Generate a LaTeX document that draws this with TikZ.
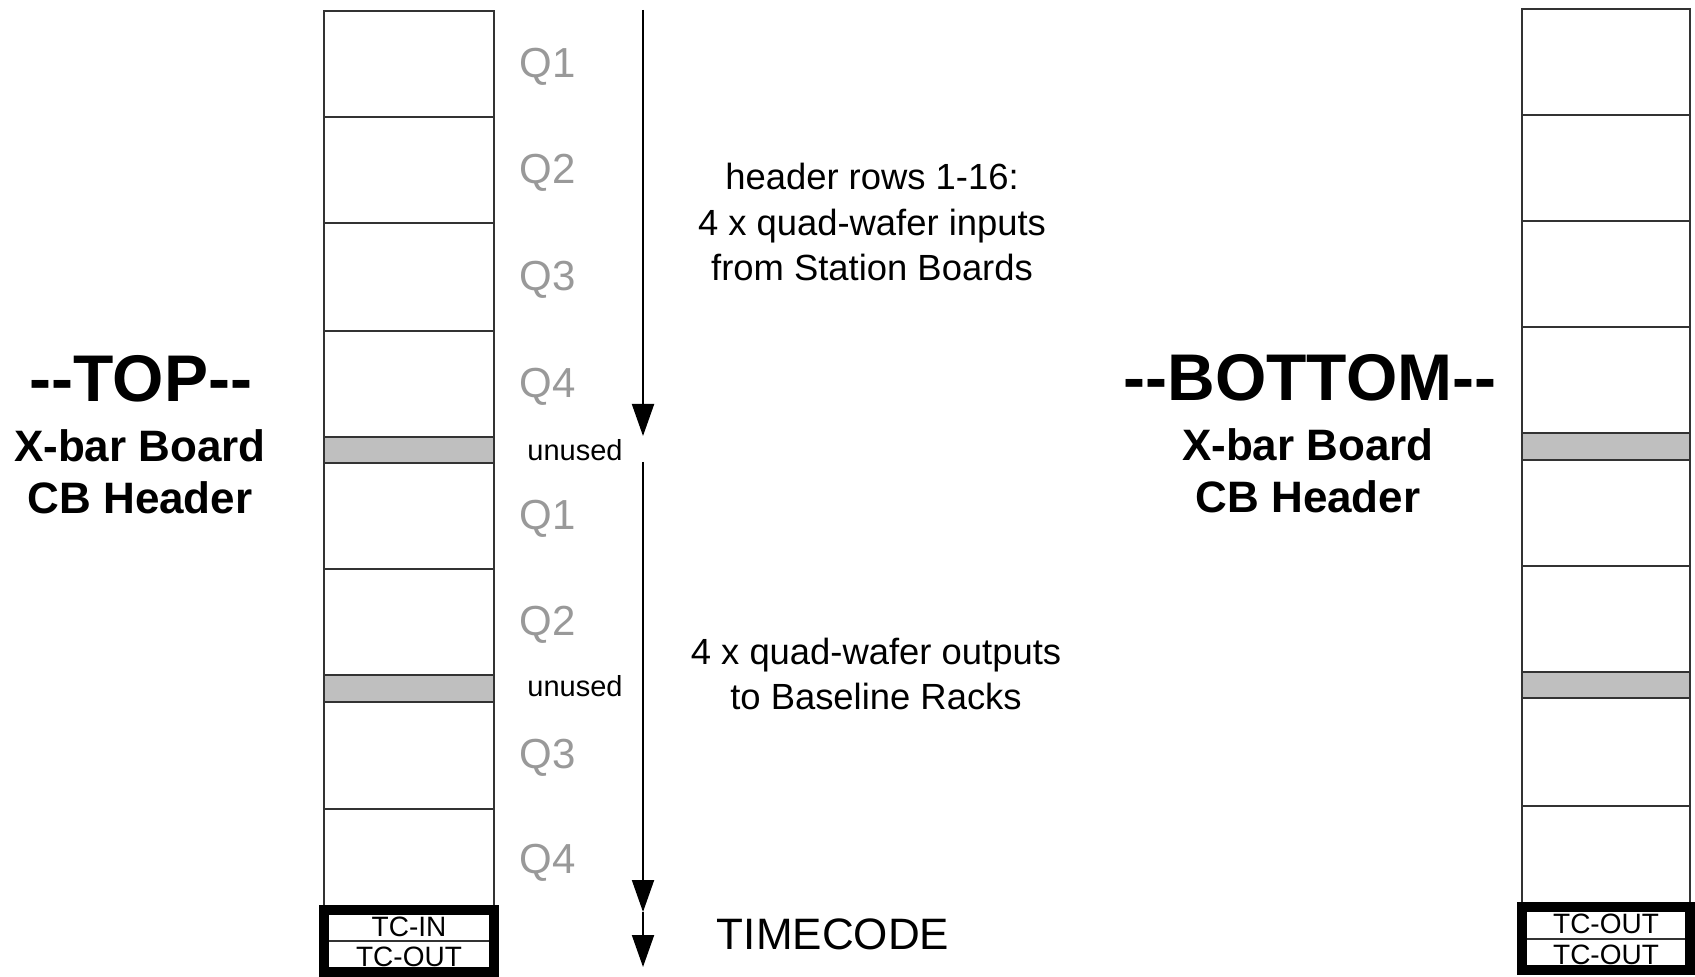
\documentclass[tikz,border=0pt]{standalone}
\usepackage{fontspec}
\setmainfont{Liberation Sans}
\usetikzlibrary{arrows.meta, positioning}
\tikzset{
  cellrow/.style={draw=black!80, line width=1pt},
  unusedrow/.style={draw=black!80, fill=black!25, line width=1pt},
  tcbox/.style={draw=black, line width=5pt},
  tctext/.style={font=\fontsize{14}{16}\selectfont, inner sep=0pt},
  qlabel/.style={font=\fontsize{21}{25}\selectfont, text=black!40},
  unusedlabel/.style={font=\fontsize{14.5}{17}\selectfont},
  notelabel/.style={font=\fontsize{18.2}{22.75}\selectfont, align=center},
  sidetitle/.style={font=\bfseries\fontsize{33}{40}\selectfont},
  sidesub/.style={font=\bfseries\fontsize{22}{26}\selectfont, align=center},
  flowarrow/.style={-{Triangle[length=16pt, width=11pt]}, line width=1pt},
}

\begin{document}
\begin{tikzpicture}[x=0.5pt, y=-0.5pt]
  \fill[white] (0,0) rectangle (1695,977);
  \useasboundingbox (0,0) rectangle (1695,977);

  % Top side header column
  \foreach \ya/\yb in {11/117, 117/223, 223/331, 331/437,
                       463/569, 569/675, 702/809, 809/910}
    \draw[cellrow] (324,\ya) rectangle (494,\yb);
  \foreach \ya/\yb in {437/463, 675/702}
    \draw[unusedrow] (324,\ya) rectangle (494,\yb);
  \draw[cellrow] (324,941) -- (494,941);
  \draw[tcbox] (324,910) rectangle (494,972);
  \node[tctext] (tcin) at (409,927) {TC-IN};
  \node[tctext] (tcout) at (409,957) {TC-OUT};

  % Bottom side header column
  \foreach \ya/\yb in {9/115, 115/221, 221/327, 327/433,
                       460/566, 566/672, 698/806, 806/907}
    \draw[cellrow] (1522,\ya) rectangle (1690,\yb);
  \foreach \ya/\yb in {433/460, 672/698}
    \draw[unusedrow] (1522,\ya) rectangle (1690,\yb);
  \draw[cellrow] (1522,939) -- (1690,939);
  \draw[tcbox] (1522,907) rectangle (1690,970);
  \node[tctext] (tcoutb) at (1606,924) {TC-OUT};
  \node[tctext] (tcoutc) at (1606,955) {TC-OUT};

  % Quad labels
  \foreach \y/\q [count=\i] in {67/Q1, 173/Q2, 280/Q3, 387/Q4,
                                519/Q1, 625/Q2, 758/Q3, 863/Q4}
    \node[qlabel] (quad\i) at (548,\y) {\q};
  \node[unusedlabel] (unused1) at (575,450) {unused};
  \node[unusedlabel] (unused2) at (575,686) {unused};

  % Signal flow arrows
  \coordinate (inbeg) at (643,10);
  \coordinate (inend) at (643,436);
  \coordinate (outbeg) at (643,462);
  \coordinate (outend) at (643,912);
  \coordinate (tcend) at (643,967);
  \draw[flowarrow] (inbeg) -- (inend);
  \draw[flowarrow] (outbeg) -- (outend);
  \draw[flowarrow] (outend) -- (tcend);

  \node[notelabel] (innote) at (872,222)
    {header rows 1-16:\\4 x quad-wafer inputs\\from Station Boards};
  \node[notelabel] (outnote) at (876,674)
    {4 x quad-wafer outputs\\to Baseline Racks};
  \node[font=\fontsize{22}{26}\selectfont] (timecode) at (833,934) {TIMECODE};

  % Side titles
  \node[sidetitle] (toptitle) at (141,379) {-{}-TOP-{}-};
  \node[sidesub] (topsub) at (140,472) {X-bar Board\\CB Header};
  \node[sidetitle] (bottitle) at (1310,378) {-{}-BOTTOM-{}-};
  \node[sidesub] (botsub) at (1308,471) {X-bar Board\\CB Header};
\end{tikzpicture}
\end{document}
